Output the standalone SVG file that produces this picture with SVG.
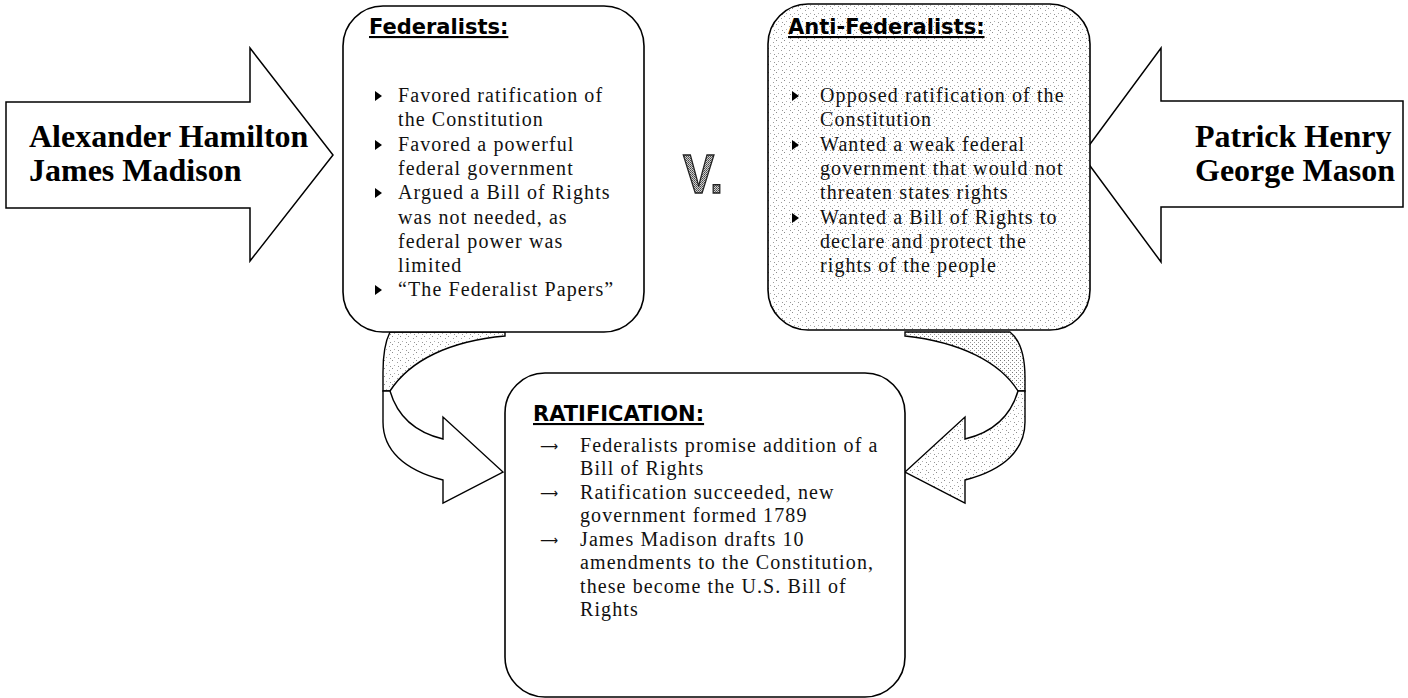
<svg xmlns="http://www.w3.org/2000/svg" width="1408" height="698" viewBox="0 0 1408 698">
<defs>
<pattern id="dots" width="8" height="8" patternUnits="userSpaceOnUse">
<rect width="8" height="8" fill="#fff"/>
<rect x="0" y="0" width="1" height="1" fill="#8c8c8c"/>
<rect x="5" y="2" width="1" height="1" fill="#a0a0a0"/>
<rect x="2" y="5" width="1" height="1" fill="#b0b0b0"/>
<rect x="6" y="6" width="1" height="1" fill="#959595"/>
</pattern>
<pattern id="dotsDense" width="4" height="4" patternUnits="userSpaceOnUse">
<rect width="4" height="4" fill="#fff"/>
<rect x="0" y="0" width="1" height="1" fill="#777"/>
<rect x="2" y="2" width="1" height="1" fill="#999"/>
</pattern>
<pattern id="vpat" width="2" height="2" patternUnits="userSpaceOnUse">
<rect width="2" height="2" fill="#d0d0d0"/>
<rect x="0" y="0" width="1" height="1" fill="#444"/>
<rect x="1" y="1" width="1" height="1" fill="#666"/>
</pattern>
<path id="bullet" d="M0,-5 L7,0 L0,5 Z" fill="#000"/>
</defs>
<style>
.box{stroke:#000;stroke-width:1.6}
.title{font-family:"DejaVu Sans",Verdana,sans-serif;font-weight:bold;font-size:21px;text-decoration:underline;fill:#000}
.body{font-family:"Liberation Serif","Times New Roman",serif;font-size:20px;letter-spacing:1.1px;fill:#111}
.arrow-bullet{font-family:"DejaVu Sans",sans-serif;font-size:14px;fill:#111}
.name{font-family:"Liberation Serif","Times New Roman",serif;font-weight:bold;font-size:32px;fill:#000}
.blk{fill:#fff;stroke:#000;stroke-width:1.5;stroke-linejoin:miter}
.curve{stroke:#000;stroke-width:1.4;stroke-linejoin:miter}
</style>

<g id="connectors">
<!-- left curved arrow -->
<path class="curve" fill="url(#dots)" d="M390,332 L505,332 L505,336 C450,341 410,360 390,391 L383,391 L383,372 C383,352 386,340 390,332 Z"/>
<path class="curve" fill="#fff" d="M390,391 C397,415 414,432 443,439 L443,417 L503,472 L443,503 L443,480 C404,470 383,450 383,422 L383,391 Z"/>
<!-- right curved arrow -->
<path class="curve" fill="url(#dotsDense)" d="M905,332 L1010,332 C1020,340 1025,355 1025,378 L1025,391 L1018,391 C1000,362 960,342 905,336 Z"/>
<path class="curve" fill="url(#dots)" d="M1018,391 C1011,415 994,432 965,439 L965,417 L905,472 L965,503 L965,480 C1004,470 1025,450 1025,422 L1025,391 Z"/>
</g>

<g id="hamilton-madison">
<path class="blk" d="M6,102 L250,102 L250,48 L333,155 L250,261 L250,208 L6,208 Z"/>
<text class="name" x="29" y="147">Alexander Hamilton</text>
<text class="name" x="29" y="181">James Madison</text>
</g>

<g id="henry-mason">
<path class="blk" d="M1403,101 L1161,101 L1161,48 L1082,155 L1161,262 L1161,207 L1403,207 Z"/>
<text class="name" x="1195" y="147">Patrick Henry</text>
<text class="name" x="1195" y="181">George Mason</text>
</g>

<g id="federalists">
<rect class="box" x="343" y="6" width="301" height="326" rx="40" fill="#fff"/>
<text class="title" x="369" y="34">Federalists:</text>
<use href="#bullet" x="375" y="96"/>
<use href="#bullet" x="375" y="145"/>
<use href="#bullet" x="375" y="193"/>
<use href="#bullet" x="375" y="290"/>
<text class="body" x="398" y="102">Favored ratification of</text>
<text class="body" x="398" y="126">the Constitution</text>
<text class="body" x="398" y="151">Favored a powerful</text>
<text class="body" x="398" y="175">federal government</text>
<text class="body" x="398" y="199">Argued a Bill of Rights</text>
<text class="body" x="398" y="224">was not needed, as</text>
<text class="body" x="398" y="248">federal power was</text>
<text class="body" x="398" y="272">limited</text>
<text class="body" x="398" y="296">“The Federalist Papers”</text>
</g>

<g id="versus">
<text x="683" y="193" font-family="'Liberation Sans',Arial,sans-serif" font-weight="bold" font-size="56" fill="url(#vpat)" stroke="#222" stroke-width="1.5" textLength="40" lengthAdjust="spacingAndGlyphs">V.</text>
</g>

<g id="anti-federalists">
<rect class="box" x="768" y="4" width="322" height="326" rx="40" fill="url(#dots)"/>
<text class="title" x="788" y="34">Anti-Federalists:</text>
<use href="#bullet" x="792" y="96"/>
<use href="#bullet" x="792" y="145"/>
<use href="#bullet" x="792" y="218"/>
<text class="body" x="820" y="102">Opposed ratification of the</text>
<text class="body" x="820" y="126">Constitution</text>
<text class="body" x="820" y="151">Wanted a weak federal</text>
<text class="body" x="820" y="175">government that would not</text>
<text class="body" x="820" y="199">threaten states rights</text>
<text class="body" x="820" y="224">Wanted a Bill of Rights to</text>
<text class="body" x="820" y="248">declare and protect the</text>
<text class="body" x="820" y="272">rights of the people</text>
</g>

<g id="ratification">
<rect class="box" x="505" y="373" width="400" height="324" rx="40" fill="#fff"/>
<text class="title" x="533" y="421">RATIFICATION:</text>
<text class="arrow-bullet" x="540" y="451" textLength="18" lengthAdjust="spacingAndGlyphs">⟶</text>
<text class="arrow-bullet" x="540" y="498" textLength="18" lengthAdjust="spacingAndGlyphs">⟶</text>
<text class="arrow-bullet" x="540" y="545" textLength="18" lengthAdjust="spacingAndGlyphs">⟶</text>
<text class="body" x="580" y="452">Federalists promise addition of a</text>
<text class="body" x="580" y="475">Bill of Rights</text>
<text class="body" x="580" y="499">Ratification succeeded, new</text>
<text class="body" x="580" y="522">government formed 1789</text>
<text class="body" x="580" y="546">James Madison drafts 10</text>
<text class="body" x="580" y="569">amendments to the Constitution,</text>
<text class="body" x="580" y="593">these become the U.S. Bill of</text>
<text class="body" x="580" y="616">Rights</text>
</g>
</svg>
